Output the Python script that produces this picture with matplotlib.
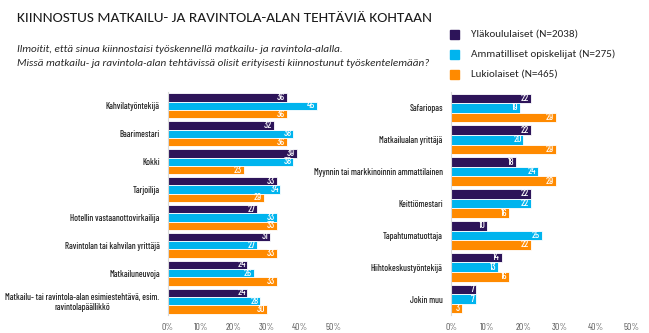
import numpy as np
import matplotlib.pyplot as plt
from matplotlib.patches import Rectangle

# Survey data (%)
series = ["Yläkoululaiset (N=2038)", "Ammatilliset opiskelijat (N=275)", "Lukiolaiset (N=465)"]
colors = ["#2D1459", "#00B4EE", "#FF8A00"]

left_cats = ["Kahvilatyöntekijä", "Baarimestari", "Kokki", "Tarjoilija",
             "Hotellin vastaanottovirkailija", "Ravintolan tai kahvilan yrittäjä",
             "Matkailuneuvoja",
             "Matkailu- tai ravintola-alan esimiestehtävä, esim.\nravintolapäällikkö"]
left_yla = [36, 32, 39, 33, 27, 31, 24, 24]
left_amm = [45, 38, 38, 34, 33, 27, 26, 28]
left_luk = [36, 36, 23, 29, 33, 33, 33, 30]

right_cats = ["Safariopas", "Matkailualan yrittäjä",
              "Myynnin tai markkinoinnin ammattilainen", "Keittiömestari",
              "Tapahtumatuottaja", "Hiihtokeskustyöntekijä", "Jokin muu"]
right_yla = [22, 22, 18, 22, 10, 14, 7]
right_amm = [19, 20, 24, 22, 25, 13, 7]
right_luk = [29, 29, 29, 16, 22, 16, 3]

xticks = [0, 10, 20, 30, 40, 50]

TXT = "#262626"
NARROW = ["Barlow Condensed", "Liberation Sans Narrow", "DejaVu Sans"]
HEAD = ["Carlito", "Lato", "DejaVu Sans"]

fig = plt.figure(figsize=(6.49, 3.33), dpi=100)

fig.text(17 / 649, 1 - 18 / 333, "KIINNOSTUS MATKAILU- JA RAVINTOLA-ALAN TEHTÄVIÄ KOHTAAN",
         fontsize=11.1, color="#1a1a1a", va="center", ha="left", family=HEAD)
fig.text(17 / 649, 1 - 49 / 333,
         "Ilmoitit, että sinua kiinnostaisi työskennellä matkailu- ja ravintola-alalla.",
         fontsize=8, style="italic", color=TXT, va="center", ha="left", family=HEAD)
fig.text(17 / 649, 1 - 63 / 333,
         "Missä matkailu- ja ravintola-alan tehtävissä olisit erityisesti kiinnostunut työskentelemään?",
         fontsize=8, style="italic", color=TXT, va="center", ha="left", family=HEAD)

# legend drawn as squares + text
for i, (name, c) in enumerate(zip(series, colors)):
    y = 1 - (34 + i * 20) / 333
    fig.patches.append(Rectangle((450 / 649, y - 4.5 / 333), 9 / 649, 9 / 333,
                                 transform=fig.transFigure, color=c))
    fig.text(471 / 649, y, name, fontsize=8, color=TXT, va="center", ha="left",
             family=HEAD)


def panel(rect, cats, vals):
    ax = fig.add_axes(rect)
    n = len(cats)
    y = np.arange(n)
    h = 0.3
    for k, (v, c) in enumerate(zip(vals, colors)):
        pos = y + (k - 1) * h
        ax.barh(pos, v, height=h, color=c, edgecolor="white", linewidth=0.6)
        for p, val in zip(pos, v):
            ax.text(val - 0.5, p, str(val), color="white", fontsize=7,
                    ha="right", va="center", family=NARROW, fontweight=500)
    ax.set_xlim(0, 50)
    ax.set_ylim(n - 0.5, -0.5)
    ax.set_yticks(y)
    ax.set_yticklabels(cats, fontsize=6.5, color=TXT, multialignment="center",
                       family=NARROW, fontweight=500)
    ax.set_xticks(xticks)
    ax.set_xticklabels([f"{t}%" for t in xticks], fontsize=7, color="#595959", family=NARROW)
    ax.tick_params(length=0, pad=6)
    ax.tick_params(axis="y", pad=6)
    for s in ["top", "right", "bottom"]:
        ax.spines[s].set_visible(False)
    ax.spines["left"].set_color("#d9d9d9")
    ax.spines["left"].set_linewidth(0.8)
    return ax


bottom = 1 - 315 / 333
height = (315 - 92) / 333
panel([168 / 649, bottom, 165 / 649, height], left_cats, [left_yla, left_amm, left_luk])
panel([451 / 649, bottom, 181 / 649, height], right_cats, [right_yla, right_amm, right_luk])

fig.savefig("out.png", dpi=100)
